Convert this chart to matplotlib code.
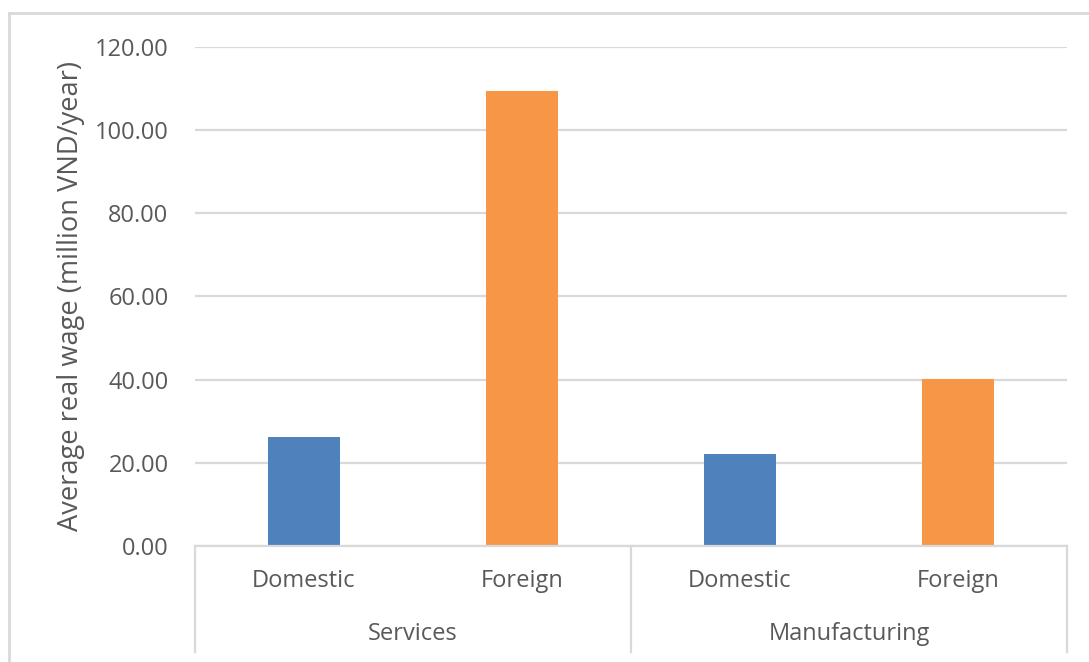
import matplotlib
matplotlib.use("Agg")
import matplotlib.pyplot as plt
from matplotlib.lines import Line2D
from matplotlib.ticker import FormatStrFormatter

plt.rcParams['font.family'] = ['Open Sans', 'DejaVu Sans']

sectors = ["Services", "Manufacturing"]
owners = ["Domestic", "Foreign"]
wages = [26.1, 109.4, 22.2, 40.2]   # Services D/F, Manufacturing D/F
bar_colors = ["#4f81bd", "#f79646", "#4f81bd", "#f79646"]
yticks = [0, 20, 40, 60, 80, 100, 120]

grey = "#d9d9d9"
txt = "#595959"

fig = plt.figure(figsize=(10.89, 6.62), dpi=100)
ax = fig.add_axes([195 / 1089, 116 / 662, 872 / 1089, 499.3 / 662])

x = list(range(len(wages)))
ax.bar(x, wages, width=0.333, color=bar_colors, zorder=3)

ax.set_xlim(-0.5, len(wages) - 0.5)
ax.set_ylim(0, 120)
ax.set_yticks(yticks)
ax.yaxis.set_major_formatter(FormatStrFormatter("%.2f"))
ax.tick_params(axis="y", length=0, pad=19, labelsize=17, labelcolor=txt)
ax.set_xticks([])
ax.grid(axis="y", color=grey, linewidth=1.6, zorder=0)
for s in ["top", "right", "left"]:
    ax.spines[s].set_visible(False)
ax.spines["bottom"].set_color(grey)
ax.spines["bottom"].set_linewidth(1.6)
ax.spines["bottom"].set_zorder(4)

ax.set_ylabel("Average real wage (million VND/year)", fontsize=19.6, color=txt)
ax.yaxis.set_label_coords(-0.126, 0.5)

# two-level category axis: owner labels, then sector labels with dividers
trans = ax.get_xaxis_transform()
for i in x:
    ax.text(i, -0.07, owners[i % 2], transform=trans, ha="center", va="center",
            fontsize=17, color=txt)
for j, sec in enumerate(sectors):
    ax.text(2 * j + 0.5, -0.176, sec, transform=trans, ha="center", va="center",
            fontsize=17, color=txt)
for xd in [-0.5, 1.5, 3.5]:
    ax.add_line(Line2D([xd, xd], [0, -0.2123], transform=trans, color=grey,
                       linewidth=1.6, clip_on=False))

# chart area frame
fig.add_artist(Line2D([9 / 1089, 1.0], [1 - 13 / 662] * 2, color=grey, linewidth=2))
fig.add_artist(Line2D([9 / 1089] * 2, [0, 1 - 13 / 662], color=grey, linewidth=2))

fig.savefig("out.png", dpi=100)
